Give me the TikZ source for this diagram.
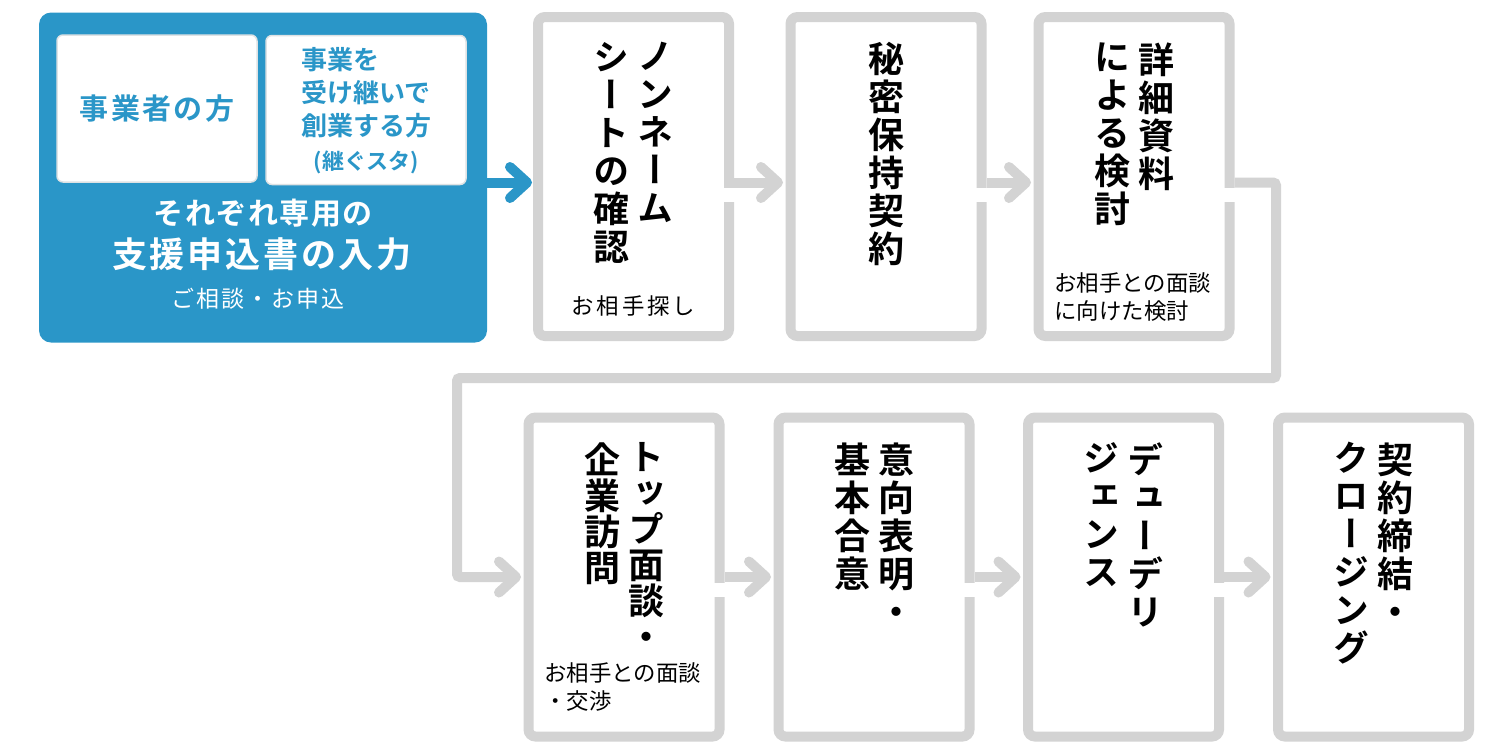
\documentclass[tikz,border=0pt]{standalone}
\usepackage{fontspec}
\setmainfont{Noto Sans CJK JP}
\newfontfamily\jpbold{Noto Sans CJK JP Bold}
\newfontfamily\jpvert{Noto Sans CJK JP Bold}[RawFeature=+vert]
\usetikzlibrary{arrows.meta}

\definecolor{kblue}{RGB}{42,150,200}
\definecolor{kgray}{RGB}{211,211,211}
\definecolor{kedge}{RGB}{222,226,228}

\tikzset{
  stepbox/.style={draw=kgray,line width=5pt,fill=white,rounded corners=3.5pt,
    minimum width=95.5pt,minimum height=159.5pt,inner sep=0pt},
  whitebox/.style={draw=kedge,line width=0.75pt,fill=white,rounded corners=3pt,
    minimum width=100pt,inner sep=0pt,text=kblue},
  vcol/.style={anchor=north,inner sep=0pt,align=center,
    font=\jpvert\fontsize{18}{19}\selectfont},
  note/.style={inner sep=0pt,font=\fontsize{11.2}{14}\selectfont},
  flow/.style={draw=kgray,line width=5pt,
    -{Straight Barb[length=8.5pt,width=15.5pt,round]},shorten >=1.25pt},
}

\begin{document}
\begin{tikzpicture}[x=0.5pt,y=-0.5pt]
\useasboundingbox (0,0) rectangle (1500,752);
% application block
\node[fill=kblue,rounded corners=6pt,minimum width=224pt,minimum height=165pt] (apply) at (263,177.5) {};
\node[whitebox,minimum height=73.5pt,font=\jpbold\fontsize{14.5}{16}\selectfont] (owner) at (157,108.5)
  {\addfontfeatures{LetterSpace=8}事業者の方};
\node[whitebox,minimum height=74.5pt,align=center,font=\jpbold\fontsize{13}{16.5}\selectfont] (starter) at (366,110)
  {\begin{tabular}{@{}l@{}}事業を\\受け継いで\\創業する方\end{tabular}\\[1.5pt]{\fontsize{11}{13}\selectfont(継ぐスタ)}};
\node[text=white,font=\jpbold\fontsize{15}{18}\selectfont] (each) at (263,213)
  {\addfontfeatures{LetterSpace=5}それぞれ専用の};
\node[text=white,font=\jpbold\fontsize{17.5}{20}\selectfont] (form) at (262,254)
  {\addfontfeatures{LetterSpace=8}支援申込書の入力};
\node[text=white,font=\fontsize{11.5}{14}\selectfont] (consult) at (258,299)
  {\addfontfeatures{LetterSpace=8}ご相談・お申込};

% steps
\foreach \n/\x/\y in {A/633.5/176.5,B/886/176.5,C/1134/176.5,
    D/624/577,E/874/577,F/1123.5/577,G/1373.5/577}
  \node[stepbox] (\n) at (\x,\y) {};
\node[vcol] (A1) at (655.5,42) {ノ\\ン\\ネ\\ー\\ム};
\node[vcol] (A2) at (611.5,42) {シ\\ー\\ト\\の\\確\\認};
\node[vcol] (B1) at (886,42) {秘\\密\\保\\持\\契\\約};
\node[vcol] (C1) at (1156,42) {詳\\細\\資\\料};
\node[vcol] (C2) at (1112,42) {に\\よ\\る\\検\\討};
\node[vcol,font=\jpvert\fontsize{18}{18}\selectfont] (D1) at (646,442) {ト\\ッ\\プ\\面\\談\\・};
\node[vcol,font=\jpvert\fontsize{18}{18}\selectfont] (D2) at (602,442) {企\\業\\訪\\問};
\node[vcol] (E1) at (896,442) {意\\向\\表\\明\\・};
\node[vcol] (E2) at (852,442) {基\\本\\合\\意};
\node[vcol] (F1) at (1145.5,442) {デ\\ュ\\ー\\デ\\リ};
\node[vcol] (F2) at (1101.5,442) {ジ\\ェ\\ン\\ス};
\node[vcol] (G1) at (1395.5,442) {契\\約\\締\\結\\・};
\node[vcol] (G2) at (1351.5,442) {ク\\ロ\\ー\\ジ\\ン\\グ};
\node[note] (Anote) at (633.5,306) {\addfontfeatures{LetterSpace=13}お相手探し};
\node[note,anchor=west,align=left] (Cnote) at (1054,297) {お相手との面談\\に向けた検討};
\node[note,anchor=west,align=left] (Dnote) at (544,687) {お相手との面談\\・交渉};

% openings under the outgoing arrows
\foreach \n in {A,B,C}
  \fill[white] ([xshift=-5.25pt,yshift=-5.75pt]\n.east) rectangle ([xshift=0.25pt,yshift=-12.75pt]\n.east);
\foreach \n in {D,E,F}
  \fill[white] ([xshift=-5.25pt,yshift=-2.75pt]\n.east) rectangle ([xshift=0.25pt,yshift=-9.75pt]\n.east);

% arrows
\coordinate (inA) at ([yshift=-3pt]A.west);
\draw[flow,draw=kblue,shorten >=0.5pt] (apply.east |- inA) -- (inA);
\foreach \a/\b in {A/B,B/C}
  \draw[flow] ([yshift=-3pt]\a.east) -- ([yshift=-3pt]\b.west);
\coordinate (turnR) at (1276,378);
\coordinate (turnL) at (457,378);
\draw[flow,rounded corners=1.5pt] ([yshift=-3pt]C.east) -| (turnR) -- (turnL) |- (D.west);%to second row
\foreach \a/\b in {D/E,E/F,F/G}
  \draw[flow] (\a.east) -- (\b.west);
\end{tikzpicture}
\end{document}
